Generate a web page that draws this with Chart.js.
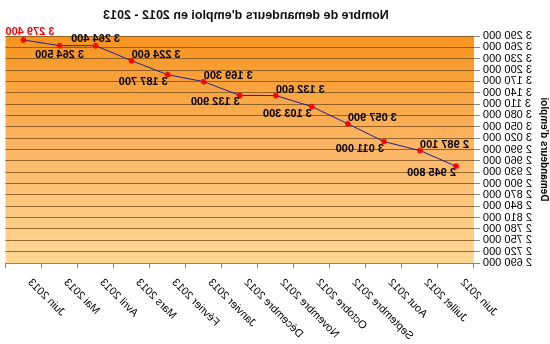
<!DOCTYPE html>
<html>
<head>
<meta charset="utf-8">
<script src="https://cdn.jsdelivr.net/npm/chart.js@4"></script>
<style>
  body { margin: 0; background: #fff; }
  /* the reference picture is a mirror image, so the whole chart is flipped */
  #wrap { width: 550px; height: 344px; transform: scaleX(-1); }
</style>
</head>
<body>
<div id="wrap"><canvas id="c"></canvas></div>
<script>
const months = ['Juin 2012', 'Juillet 2012', 'Aout 2012', 'Septembre 2012', 'Octobre 2012', 'Novembre 2012',
  'Décembre 2012', 'Janvier 2013', 'Février 2013', 'Mars 2013', 'Avril 2013', 'Mai 2013', 'Juin 2013'];
const demandeurs = [2945800, 2987100, 3011000, 3057900, 3103300, 3132600, 3132900,
  3169300, 3187700, 3224600, 3264400, 3264500, 3279400];
const yMin = 2690000;
const yMax = 3290000;
const yStep = 30000;
const titre = "Nombre de demandeurs d'emploi en 2012 - 2013";
const titreAxe = "Demandeurs d'emploi";

// where each value label sits next to its point
const labelSide = ['below', 'above', 'below', 'above', 'below', 'above', 'below',
  'above', 'below', 'above', 'top', 'bottom', 'top'];

const FONT = "Arial, 'Liberation Sans', sans-serif";

function fmt(v) {
  return String(v).replace(/\B(?=(\d{3})+(?!\d))/g, ' ');
}

const plotBackground = {
  id: 'plotBackground',
  beforeDraw(chart) {
    const { ctx, chartArea: a } = chart;
    const g = ctx.createLinearGradient(0, a.top, 0, a.bottom);
    g.addColorStop(0, '#f7941e');
    g.addColorStop(0.5, '#fbb665');
    g.addColorStop(1, '#fdd896');
    ctx.save();
    ctx.fillStyle = g;
    ctx.fillRect(a.left, a.top, a.right - a.left, a.bottom - a.top);
    ctx.restore();
  }
};

const chartTitle = {
  id: 'chartTitle',
  afterDraw(chart) {
    const ctx = chart.ctx;
    ctx.save();
    ctx.font = 'bold 12.5px ' + FONT;
    ctx.fillStyle = '#111';
    ctx.textAlign = 'center';
    ctx.textBaseline = 'middle';
    ctx.fillText(titre, 304, 16);
    ctx.restore();
  }
};

const valueLabels = {
  id: 'valueLabels',
  afterDatasetsDraw(chart) {
    const ctx = chart.ctx;
    const meta = chart.getDatasetMeta(0);
    const area = chart.chartArea;
    ctx.save();
    ctx.font = 'bold 11px ' + FONT;
    ctx.textBaseline = 'middle';
    meta.data.forEach((pt, i) => {
      const txt = fmt(demandeurs[i]);
      const side = labelSide[i];
      const w = ctx.measureText(txt).width;
      let x = pt.x;
      let y = pt.y;
      if (side === 'above') { ctx.textAlign = 'right'; y -= 6; }
      else if (side === 'below') { ctx.textAlign = 'left'; y += 7; }
      else {
        ctx.textAlign = 'center';
        y += side === 'top' ? -7 : 9;
        if (x + w / 2 > area.right) x = area.right - w / 2;
      }
      // last month is highlighted in red
      if (i === demandeurs.length - 1) { y = pt.y - 8; ctx.fillStyle = '#ff0000'; }
      else ctx.fillStyle = '#000';
      ctx.fillText(txt, x, y);
    });
    ctx.restore();
  }
};

new Chart(document.getElementById('c'), {
  type: 'line',
  data: {
    labels: months,
    datasets: [{
      data: demandeurs,
      borderColor: '#1f1f96',
      borderWidth: 1,
      pointStyle: 'star',
      pointRadius: 3,
      pointBorderColor: '#ff0000',
      pointBackgroundColor: '#ff0000',
      pointBorderWidth: 1.5,
      tension: 0
    }]
  },
  options: {
    responsive: true,
    maintainAspectRatio: false,
    animation: false,
    layout: { padding: { top: 36, right: 2, left: 0, bottom: 0 } },
    plugins: { legend: { display: false }, title: { display: false }, tooltip: { enabled: false } },
    scales: {
      x: {
        type: 'category',
        offset: true,
        afterFit(scale) { scale.height = 81; },
        grid: { display: true, drawOnChartArea: false, offset: true, tickLength: 5, color: '#888' },
        border: { display: true, color: '#888' },
        ticks: {
          autoSkip: false, minRotation: 45, maxRotation: 45, padding: 8, labelOffset: -6,
          color: '#000', font: { family: FONT, size: 11 }
        }
      },
      y: {
        min: yMin,
        max: yMax,
        afterFit(scale) { scale.width = 76; },
        grid: { color: 'rgba(125,80,25,0.8)', tickLength: 6, tickColor: '#888' },
        border: { display: false },
        ticks: {
          stepSize: yStep, autoSkip: false, padding: 3, color: '#000',
          font: { family: FONT, size: 11 },
          callback: (v) => fmt(v)
        },
        title: {
          display: true, text: titreAxe, color: '#000',
          font: { family: FONT, size: 10, weight: 'bold' }, padding: 0
        }
      }
    }
  },
  plugins: [plotBackground, chartTitle, valueLabels]
});
</script>
</body>
</html>
